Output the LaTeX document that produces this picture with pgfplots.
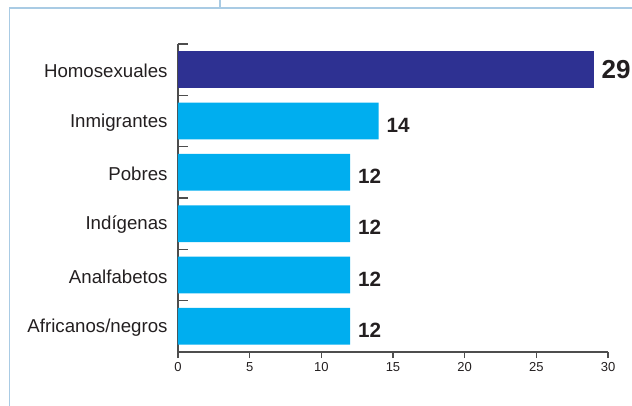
\documentclass[border=0pt]{standalone}
\usepackage{pgfplots}
\pgfplotsset{compat=1.18}
\usepackage{fontspec}
\setmainfont{Liberation Sans}
\definecolor{darkbar}{HTML}{2E3192}
\definecolor{lightbar}{HTML}{00AEEF}
\definecolor{framec}{HTML}{A9CBE4}
\definecolor{axisc}{HTML}{4D4D4D}
\definecolor{textc}{HTML}{231F20}
\begin{document}
\begin{tikzpicture}
\useasboundingbox (0,0) rectangle (474pt,304.5pt);
\draw[framec, line width=0.8pt] (7.1pt,0) -- (7.1pt,298.5pt) -- (474pt,298.5pt);
\draw[framec, line width=0.8pt] (165pt,298.5pt) -- (165pt,304.5pt);
\begin{axis}[
  at={(133.5pt,40.5pt)}, anchor=south west,
  scale only axis, width=322.5pt, height=231pt,
  xbar, bar width=0.715, bar shift=0pt,
  xmin=0, xmax=30, ymin=-0.5, ymax=5.5, y dir=reverse,
  axis x line*=bottom, axis y line*=left,
  axis line style={axisc, line width=0.9pt, -},
  /pgf/number format/assume math mode=true,
  xtick={0,5,...,30},
  ytick={0,...,5},
  yticklabels={Homosexuales,Inmigrantes,Pobres,Indígenas,Analfabetos,Africanos/negros},
  minor ytick={-0.5,0.5,...,4.5},
  tick align=inside,
  major tick length=4.5pt,
  minor tick length=7.5pt,
  major y tick style={draw=none},
  minor y tick style={axisc, line width=0.9pt},
  major x tick style={axisc, line width=0.9pt, yshift=-4.5pt},
  yticklabel style={font=\fontsize{14}{16}\selectfont, text=textc, xshift=-4.3pt, yshift=-1pt},
  xticklabel style={font=\fontsize{9.75}{11}\selectfont, text=textc, yshift=-4.5pt},
  clip=false,
]
\addplot[fill=darkbar, draw=none,
  nodes near coords,
  nodes near coords style={font=\bfseries\fontsize{19.5}{21}\selectfont, text=textc, anchor=west, xshift=2.5pt}]
  coordinates {(29,0)};
\addplot[fill=lightbar, draw=none,
  nodes near coords,
  nodes near coords style={font=\bfseries\fontsize{15.5}{17}\selectfont, text=textc, anchor=west, xshift=2.5pt, yshift=-3pt}]
  coordinates {(14,1) (12,2) (12,3) (12,4) (12,5)};
\end{axis}
\end{tikzpicture}
\end{document}
